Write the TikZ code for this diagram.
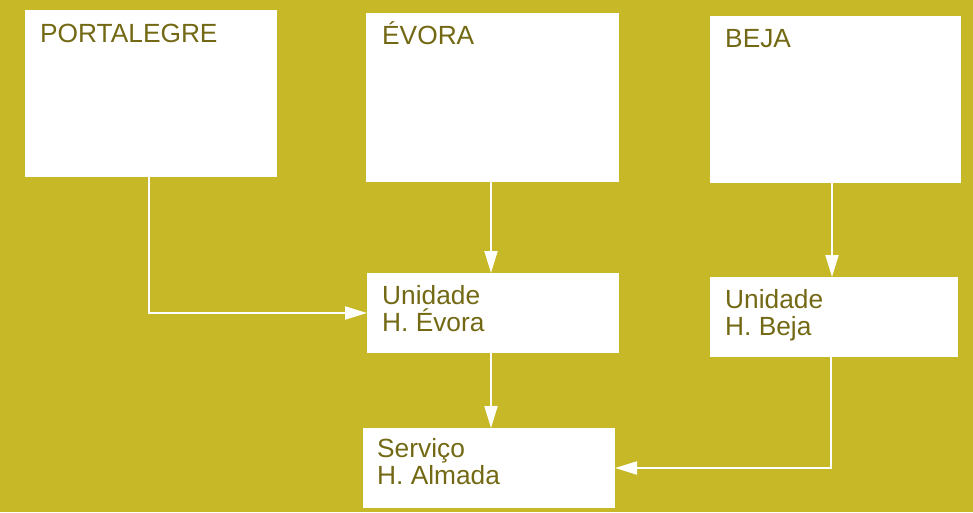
\documentclass[tikz,border=0pt]{standalone}
\usepackage{fontspec}
\setmainfont{Liberation Sans}
\usetikzlibrary{arrows.meta}
\definecolor{bgolive}{RGB}{198,184,38}
\definecolor{txtolive}{RGB}{115,105,20}
\begin{document}
\begin{tikzpicture}[x=1pt,y=-1pt,
  box/.style={draw=none,fill=white,inner sep=0pt,outer sep=0pt},
  lbl/.style={anchor=base west,inner sep=0pt,text=txtolive,font=\fontsize{26.3}{27}\selectfont,align=left},
  conn/.style={draw=white,line width=2pt,-{Triangle[length=22pt,width=13pt]}}]
\fill[bgolive] (0,0) rectangle (973,512);
\useasboundingbox (0,0) rectangle (973,512);
% boxes
\node[box,minimum width=252pt,minimum height=167pt] (port) at (151,93.5) {};
\node[box,minimum width=253pt,minimum height=169pt] (evo) at (492.5,97.5) {};
\node[box,minimum width=251pt,minimum height=167pt] (bej) at (835.5,99.5) {};
\node[box,minimum width=252pt,minimum height=80pt] (uevo) at (493,313) {};
\node[box,minimum width=248pt,minimum height=80pt] (ubej) at (834,317) {};
\node[box,minimum width=252pt,minimum height=80pt] (serv) at (489,468) {};
% labels
\node[lbl] (tport) at (40,42) {PORTALEGRE};
\node[lbl] (tevo) at (382,44) {ÉVORA};
\node[lbl] (tbej) at (725,47) {BEJA};
\node[lbl] (tuevo) at (382,331) {Unidade\\H. Évora};
\node[lbl] (tubej) at (725,335) {Unidade\\H. Beja};
\node[lbl] (tserv) at (377,484) {Serviço\\H. Almada};
% connectors
\draw[conn] (port.south -| 149,0) |- (uevo.west);
\draw[conn] (evo.south -| 491,0) -- (uevo.north -| 491,0);
\draw[conn] (bej.south -| 832,0) -- (ubej.north -| 832,0);
\draw[conn] (uevo.south -| 491,0) -- (serv.north -| 491,0);
\coordinate (bend) at (831,468);
\draw[conn] (ubej.south -| bend) -- (bend) -- (serv.east);
\end{tikzpicture}
\end{document}
